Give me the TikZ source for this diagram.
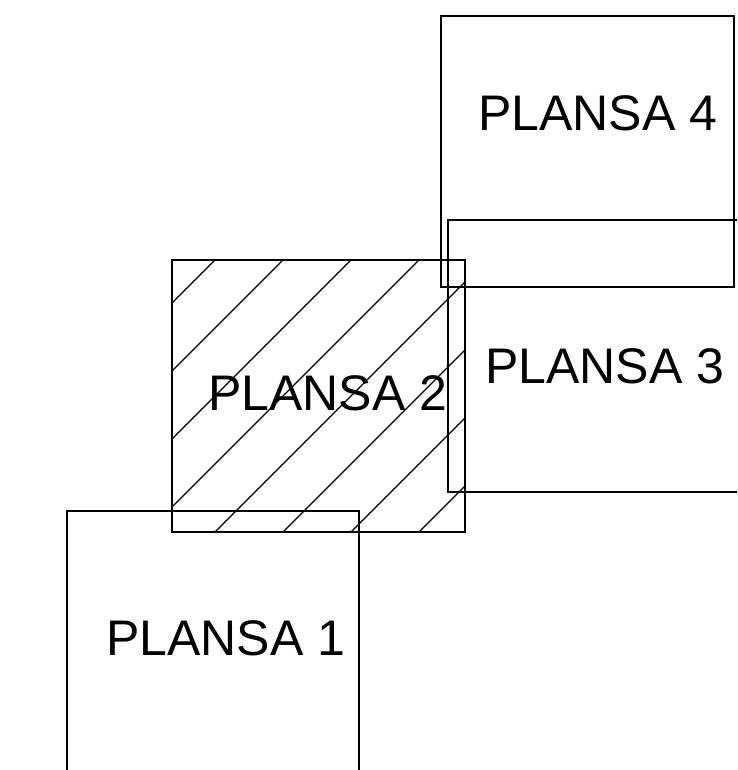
\documentclass[tikz,border=0pt]{standalone}
\usepackage{fontspec}
\setmainfont{Liberation Sans}
\begin{document}
\begin{tikzpicture}[x=1pt,y=1pt,
  edge/.style={draw=black,line width=1.3pt},
  hatchline/.style={draw=black,line width=1.1pt},
  label/.style={inner sep=0pt,anchor=base west,font=\fontsize{50}{60}\selectfont}]
\useasboundingbox (0,0) rectangle (737,-770);
\begin{scope}
\clip (0,0) rectangle (737,-770);
% PLANSA 4
\draw[edge] (441,-16) rectangle (734,-287);
% PLANSA 3 (open to the right)
\draw[edge] (745,-220) -- (448,-220) -- (448,-492) -- (745,-492);
% PLANSA 2 hatch
\begin{scope}
\clip (172,-260) rectangle (465,-532);
\foreach \c in {475,543,611,679,747,815,883,951}
  \draw[hatchline] (100,100-\c) -- (600,600-\c);
\end{scope}
\draw[edge] (172,-260) rectangle (465,-532);
% PLANSA 1 (open to the bottom)
\draw[edge] (67,-780) -- (67,-511) -- (359,-511) -- (359,-780);
\end{scope}
\node[label] (p4) at (478,-131) {PLANSA 4};
\node[label] (p3) at (485,-383) {PLANSA 3};
\node[label] (p2) at (208,-410) {PLANSA 2};
\node[label] (p1) at (106,-655) {PLANSA 1};
\end{tikzpicture}
\end{document}
